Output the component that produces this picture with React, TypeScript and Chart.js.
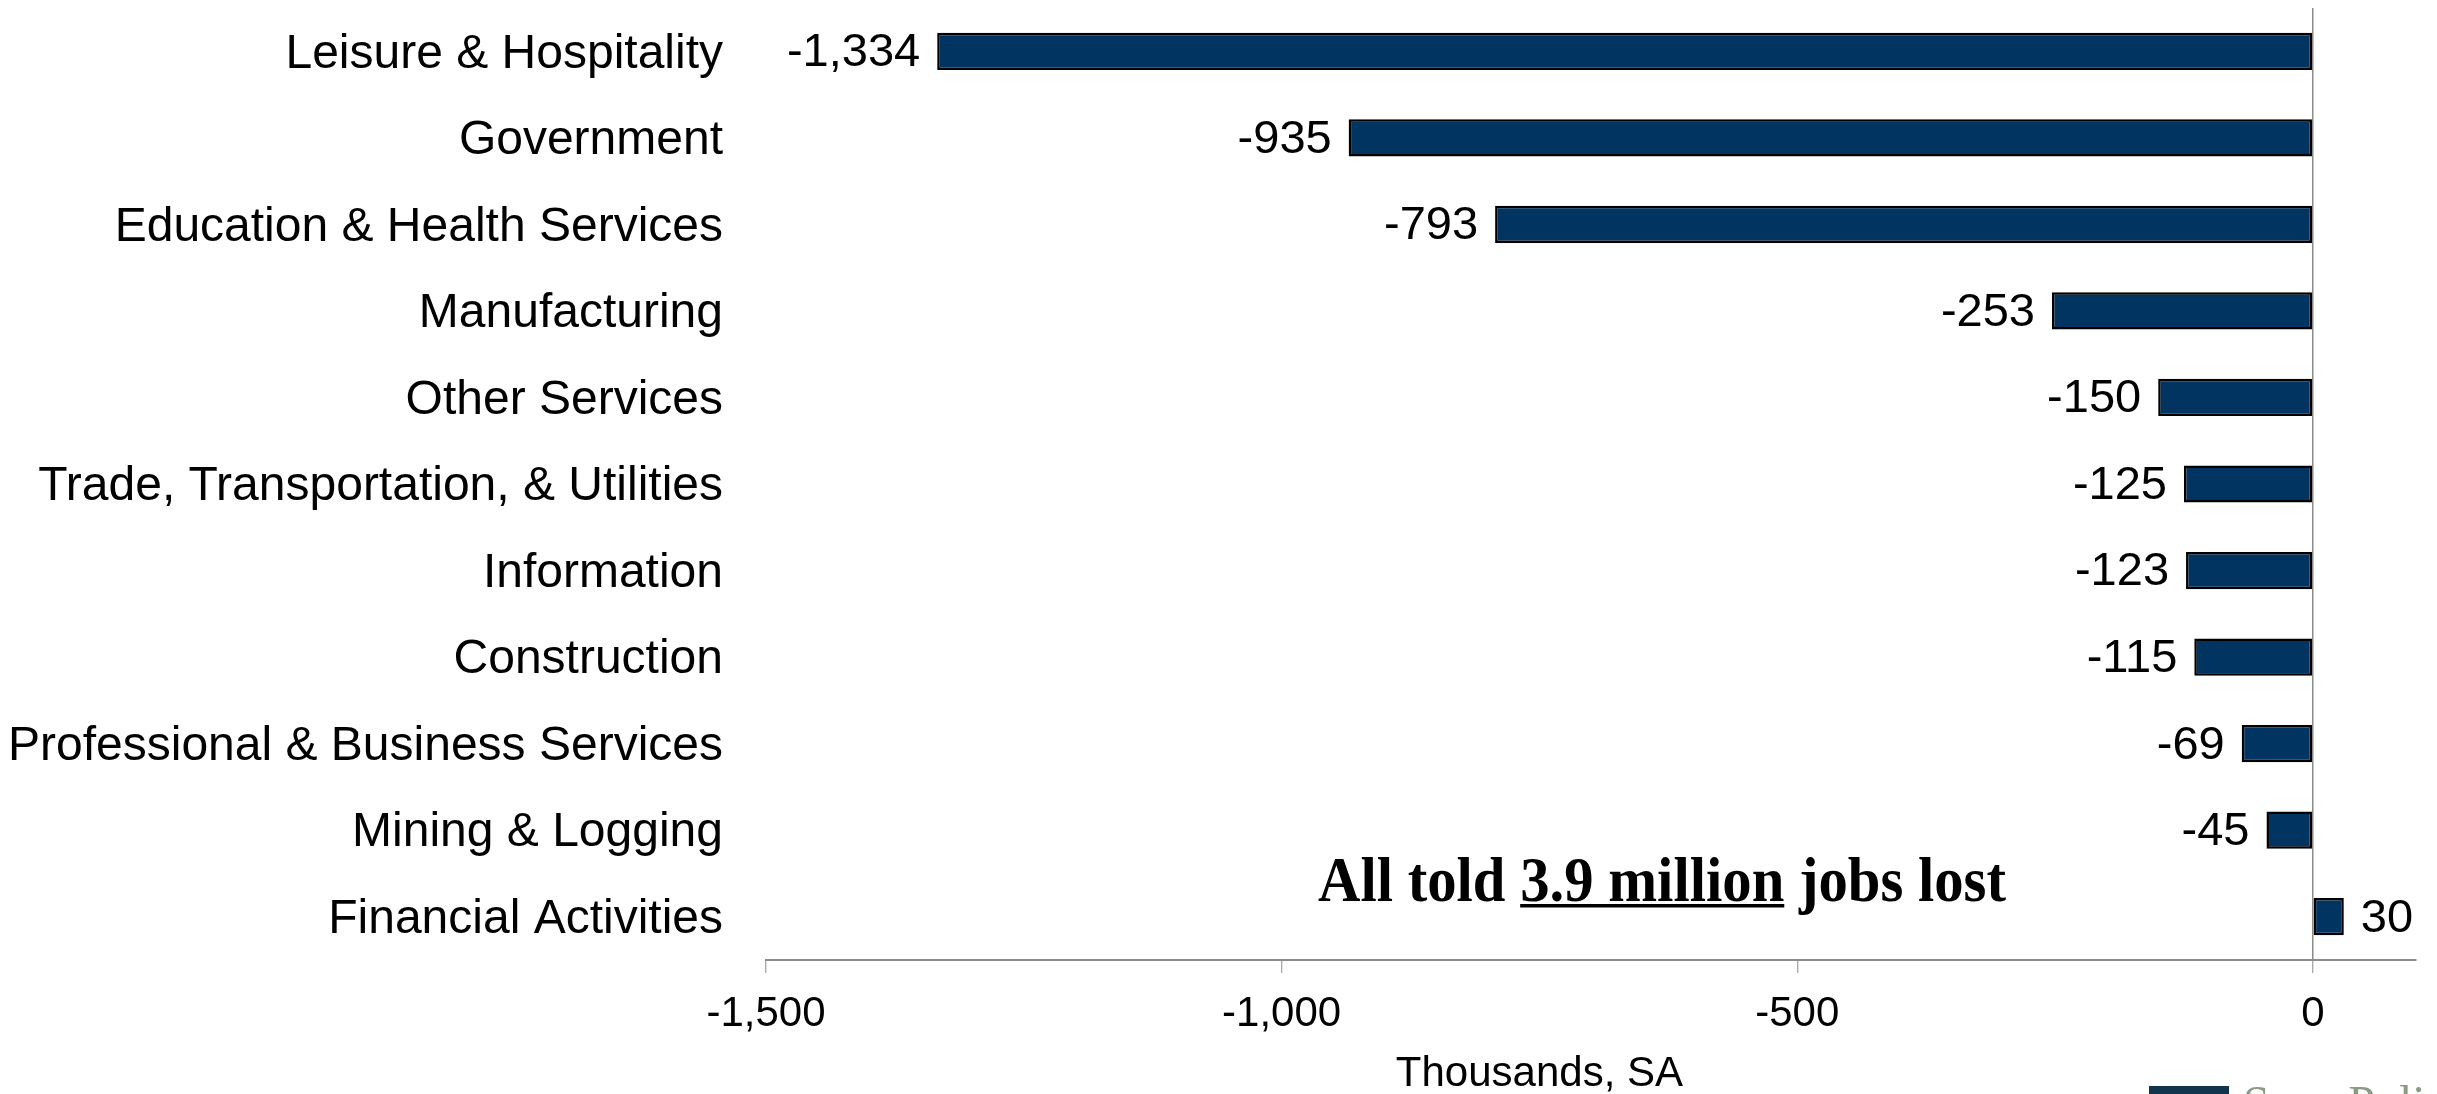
import React, { useEffect, useRef } from "react";
import { Chart, registerables } from "chart.js";

Chart.register(...registerables);

const categories = [
  "Leisure & Hospitality",
  "Government",
  "Education & Health Services",
  "Manufacturing",
  "Other Services",
  "Trade, Transportation, & Utilities",
  "Information",
  "Construction",
  "Professional & Business Services",
  "Mining & Logging",
  "Financial Activities",
];
const jobChanges = [-1334, -935, -793, -253, -150, -125, -123, -115, -69, -45, 30];
const xMin = -1500;
const xMax = 100;
const xStep = 500;
const axisTitle = "Thousands, SA";
const annotationParts = ["All told ", "3.9 million", " jobs lost"];
const logoText = "Sage Policy Group";

const W = 2437;
const H = 1094;
const SANS = '"Liberation Sans", Arial, sans-serif';
const SERIF = '"Liberation Serif", "Times New Roman", serif';

const fmt = (v: number) => v.toLocaleString("en-US");

const valueLabels = {
  id: "valueLabels",
  afterDatasetsDraw(chart: any) {
    const ctx = chart.ctx;
    const meta = chart.getDatasetMeta(0);
    ctx.save();
    ctx.font = `47px ${SANS}`;
    ctx.fillStyle = "#000";
    ctx.textBaseline = "middle";
    meta.data.forEach((bar: any, i: number) => {
      const v = jobChanges[i];
      const { x, y } = bar.getProps(["x", "y"], true);
      if (v < 0) {
        ctx.textAlign = "right";
        ctx.fillText(fmt(v), x - 17, y + 2);
      } else {
        ctx.textAlign = "left";
        ctx.fillText(fmt(v), x + 17, y + 2);
      }
    });
    ctx.restore();
  },
};

const extras = {
  id: "extras",
  afterDraw(chart: any) {
    const ctx = chart.ctx;
    const xs = chart.scales.x;
    ctx.save();
    ctx.font = `42px ${SANS}`;
    ctx.fillStyle = "#000";
    ctx.textAlign = "center";
    ctx.textBaseline = "middle";
    const cx = (xs.getPixelForValue(xMin) + xs.getPixelForValue(0)) / 2;
    ctx.fillText(axisTitle, cx, 1074);
    ctx.restore();

    ctx.save();
    ctx.font = `bold 64px ${SERIF}`;
    ctx.fillStyle = "#000";
    ctx.textAlign = "left";
    ctx.textBaseline = "alphabetic";
    const full = annotationParts.join("");
    const w = ctx.measureText(full).width;
    const sx = 688 / w;
    ctx.translate(1318, 901);
    ctx.scale(sx, 1);
    let px = 0;
    annotationParts.forEach((p, i) => {
      ctx.fillText(p, px, 0);
      const pw = ctx.measureText(p).width;
      if (i === 1) {
        ctx.fillRect(px, 3, pw, 3.5);
      }
      px += pw;
    });
    ctx.restore();

    ctx.save();
    ctx.fillStyle = "#12344d";
    ctx.fillRect(2149, 1086, 80, 12);
    ctx.fillStyle = "#8b9b84";
    ctx.font = `48px ${SERIF}`;
    ctx.textAlign = "left";
    ctx.textBaseline = "alphabetic";
    ctx.fillText(logoText, 2243, 1119);
    ctx.restore();
  },
};

export default function App() {
  const ref = useRef<HTMLCanvasElement>(null);

  useEffect(() => {
    if (!ref.current) return;
    const chart = new Chart(ref.current, {
      type: "bar",
      data: {
        labels: categories,
        datasets: [
          {
            data: jobChanges,
            backgroundColor: "#023462",
            borderColor: "#000",
            borderWidth: 2.5,
            borderSkipped: false,
            barPercentage: 0.43,
            categoryPercentage: 1,
          },
        ],
      },
      options: {
        indexAxis: "y",
        responsive: false,
        animation: false,
        devicePixelRatio: 1,
        layout: { padding: { top: 8, right: 21, left: 0, bottom: 0 } },
        plugins: {
          legend: { display: false },
          tooltip: { enabled: false },
        },
        scales: {
          x: {
            type: "linear",
            min: xMin,
            max: xMax,
            afterBuildTicks: (scale: any) => {
              const t = [];
              for (let v = xMin; v <= 0; v += xStep) t.push({ value: v });
              scale.ticks = t;
            },
            afterFit: (scale: any) => {
              scale.height = H - 960;
              scale.paddingRight = 0;
            },
            ticks: {
              font: { size: 42, family: SANS },
              color: "#000",
              padding: 16,
              callback: (v: any) => fmt(Number(v)),
            },
            grid: {
              color: (c: any) => (c.tick && c.tick.value === 0 ? "#8c8c8c" : "rgba(0,0,0,0)"),
              lineWidth: 1.5,
              drawTicks: true,
              tickLength: 13,
              tickColor: "#8c8c8c",
              tickWidth: 1,
            },
            border: { display: true, color: "#8c8c8c", width: 2 },
          },
          y: {
            afterFit: (scale: any) => {
              scale.width = 766;
              scale.paddingTop = 0;
              scale.paddingBottom = 0;
            },
            ticks: {
              font: { size: 48, family: SANS },
              color: "#000",
              padding: 43,
              labelOffset: 3,
            },
            grid: { display: false, drawTicks: false },
            border: { display: false },
          },
        },
      },
      plugins: [valueLabels, extras],
    } as any);
    return () => chart.destroy();
  }, []);

  return (
    <div style={{ position: "fixed", left: 0, top: 0, width: W, height: H, background: "#fff", overflow: "hidden" }}>
      <canvas ref={ref} width={W} height={H} style={{ display: "block", width: W, height: H }} />
    </div>
  );
}
